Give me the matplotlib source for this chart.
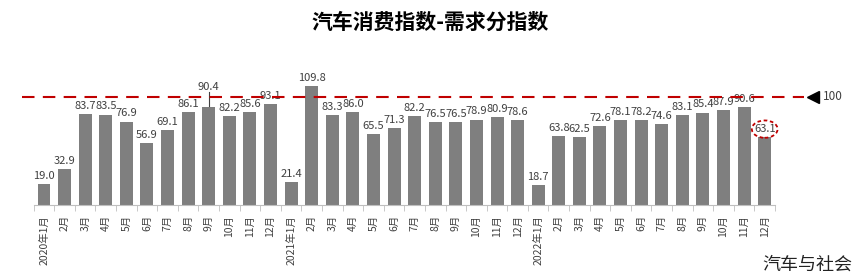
import numpy as np
import matplotlib.pyplot as plt
from matplotlib.patches import Ellipse

plt.rcParams['font.family'] = ['Noto Sans CJK SC', 'DejaVu Sans']

# 2020-01 .. 2022-12
months = (['2020年1月'] + [f'{m}月' for m in range(2, 13)] +
          ['2021年1月'] + [f'{m}月' for m in range(2, 13)] +
          ['2022年1月'] + [f'{m}月' for m in range(2, 13)])
values = [19.0, 32.9, 83.7, 83.5, 76.9, 56.9, 69.1, 86.1, 90.4, 82.2, 85.6, 93.1,
          21.4, 109.8, 83.3, 86.0, 65.5, 71.3, 82.2, 76.5, 76.5, 78.9, 80.9, 78.6,
          18.7, 63.8, 62.5, 72.6, 78.1, 78.2, 74.6, 83.1, 85.4, 87.9, 90.6, 63.1]
ref_level = 100

fig = plt.figure(figsize=(8.64, 2.79), dpi=100)
ax = fig.add_axes([0.039, 0.265, 0.858, 0.466])

x = np.arange(len(values))
ax.bar(x, values, width=0.63, color='#7f7f7f', zorder=2)
ax.set_xlim(-0.5, len(values) - 0.5)
ax.set_ylim(0, 120)

# value labels
for i, v in enumerate(values):
    if i == 8:  # 90.4 is lifted with a leader line
        ax.text(i, v + 14, f'{v:.1f}', ha='center', va='bottom', fontsize=8, color='#404040')
        ax.plot([i, i], [v + 1, v + 14], color='#404040', lw=0.8, clip_on=False)
    elif i == len(values) - 1:
        ax.text(i, v + 7, f'{v:.1f}', ha='center', va='center', fontsize=8, color='#404040', zorder=4)
        ax.add_patch(Ellipse((i, v + 7), 1.25, 16, fill=False, ec='#c00000', ls=(0, (2, 1.5)),
                             lw=1.3, clip_on=False, zorder=4))
    else:
        ax.text(i, v + 3, f'{v:.1f}', ha='center', va='bottom', fontsize=8, color='#404040')

# reference line at 100
ax.plot([-1.05, 36.9], [ref_level, ref_level], color='#c00000', lw=1.5,
        ls=(0, (6, 4)), clip_on=False, zorder=3)
ax.plot([37.35], [ref_level], marker='<', color='black', markersize=9, clip_on=False)
ax.text(37.85, ref_level, str(ref_level), va='center', ha='left', fontsize=8.5, color='#404040')

# axes styling
for s in ['top', 'right', 'left']:
    ax.spines[s].set_visible(False)
ax.spines['bottom'].set_color('#bfbfbf')
ax.set_yticks([])
ax.set_xticks(x)
ax.set_xticklabels(months, rotation=90, fontsize=7.5, color='#404040')
ax.tick_params(axis='x', which='major', length=0, pad=7)
ax.set_xticks(np.arange(-0.5, len(values)), minor=True)
ax.tick_params(axis='x', which='minor', length=4, color='#bfbfbf')

fig.text(0.498, 0.92, '汽车消费指数-需求分指数', ha='center', va='center',
         fontsize=15, fontweight='bold', color='black')
fig.text(0.986, 0.05, '汽车与社会', ha='right', va='center', fontsize=13, color='#222222')

fig.savefig('out.png', dpi=100)
